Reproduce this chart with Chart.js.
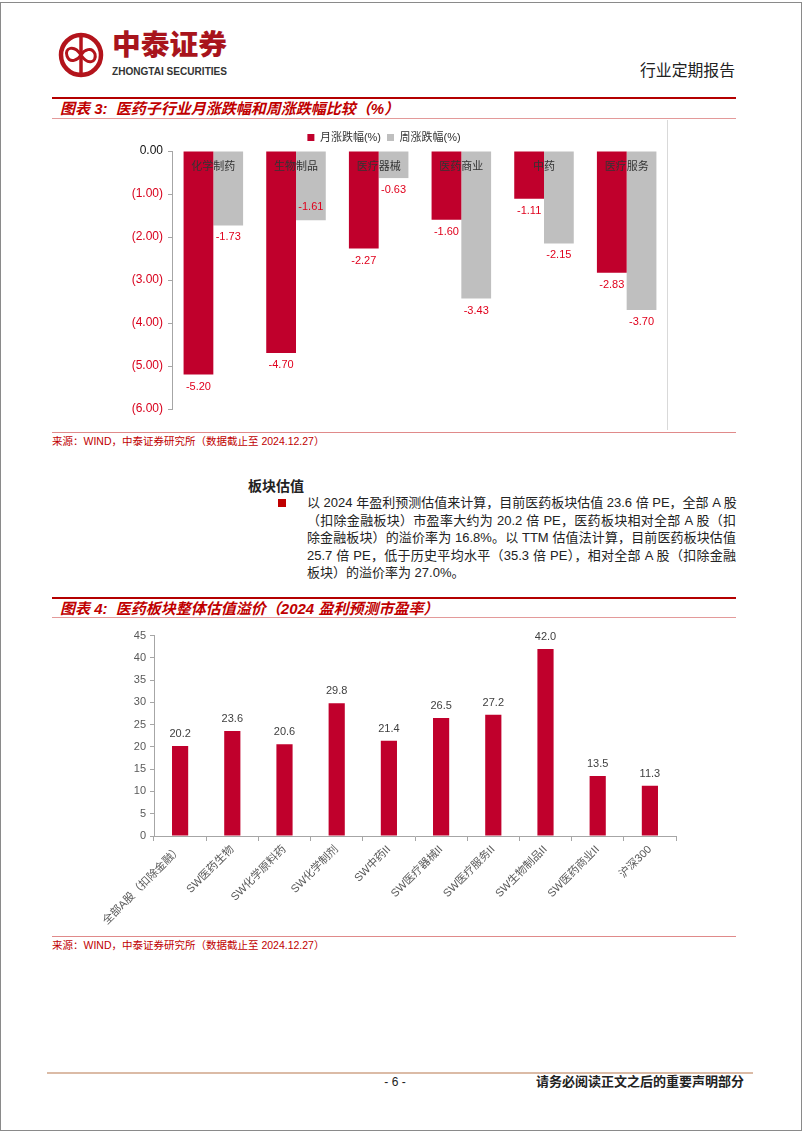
<!DOCTYPE html>
<html lang="zh">
<head>
<meta charset="UTF-8">
<title>医药行业定期报告</title>
<script src="https://cdn.jsdelivr.net/npm/chart.js"></script>
<style>
  html, body { margin: 0; padding: 0; background: #fff; }
  body { width: 802px; height: 1133px; position: relative; overflow: hidden;
         font-family: 'Liberation Sans', 'Noto Sans CJK SC', sans-serif; color: #222; }
  .frame { position: absolute; left: 0; top: 2px; width: 800px; height: 1127px; border: 1px solid #8a8a8a; }
  .abs { position: absolute; }
  .redline { position: absolute; left: 52px; width: 684px; height: 2px; background: #b40000; }
  .pinkline { position: absolute; left: 52px; width: 684px; height: 1px; background: #e39a9a; }
  .title { position: absolute; left: 60px; font-size: 15px; font-weight: bold; font-style: italic; color: #c00000; white-space: nowrap; line-height: 18px; }
  .src { position: absolute; left: 52px; font-size: 10.5px; color: #c00000; white-space: nowrap; line-height: 12px; }
  .para { position: absolute; left: 307px; width: 429px; font-size: 13px; line-height: 17.6px; color: #222; }
  .para div { white-space: nowrap; text-align: justify; text-align-last: justify; }
  .para div.last { text-align-last: left; }
</style>
</head>
<body>
<div class="frame"></div>

<!-- 页眉 -->
<svg class="abs" style="left:0;top:0" width="802" height="100">
  <circle cx="81" cy="55" r="20" fill="none" stroke="#b3141c" stroke-width="4.5"/>
  <line x1="81" y1="33" x2="81" y2="77" stroke="#b3141c" stroke-width="3.5"/>
  <path d="M81 55 C 74 44, 64 48, 67 56 C 70 64, 78 60, 81 55 C 84 50, 92 46, 95 54 C 97 62, 88 66, 81 55 Z" fill="none" stroke="#b3141c" stroke-width="3"/>
  <text x="112" y="55" font-size="28" font-weight="900" fill="#a8141c" font-family="Noto Sans CJK SC" textLength="115" lengthAdjust="spacingAndGlyphs">中泰证券</text>
  <text x="112" y="75" font-size="11.5" font-weight="bold" fill="#333" font-family="Liberation Sans Narrow, Liberation Sans" textLength="115" lengthAdjust="spacingAndGlyphs">ZHONGTAI SECURITIES</text>
  <text x="640" y="76" font-size="16" fill="#222" font-family="Noto Sans CJK SC" textLength="95" lengthAdjust="spacingAndGlyphs">行业定期报告</text>
</svg>

<div class="redline" style="top:97px"></div>
<div class="title" style="top:100px">图表 3:&nbsp; 医药子行业月涨跌幅和周涨跌幅比较（%）</div>
<div class="pinkline" style="top:118px"></div>

<div class="abs" style="left:100px;top:126px;width:632px;height:304px">
  <canvas id="chg"></canvas>
</div>
<div class="abs" style="left:667px;top:120px;width:1px;height:310px;background:#d9d9d9"></div>

<div class="pinkline" style="top:432px;background:#e08a8a"></div>
<div class="src" style="top:435px">来源：WIND，中泰证券研究所（数据截止至 2024.12.27）</div>

<div class="abs" style="left:248px;top:477px;font-size:14px;font-weight:bold;line-height:18px">板块估值</div>
<div class="abs" style="left:278px;top:499px;width:8px;height:8px;background:#c00000"></div>
<div class="para" style="top:494px">
  <div>以 2024 年盈利预测估值来计算，目前医药板块估值 23.6 倍 PE，全部 A 股</div>
  <div>（扣除金融板块）市盈率大约为 20.2 倍 PE，医药板块相对全部 A 股（扣</div>
  <div>除金融板块）的溢价率为 16.8%。以 TTM 估值法计算，目前医药板块估值</div>
  <div>25.7 倍 PE，低于历史平均水平（35.3 倍 PE），相对全部 A 股（扣除金融</div>
  <div class="last">板块）的溢价率为 27.0%。</div>
</div>

<div class="redline" style="top:597px"></div>
<div class="title" style="top:600px">图表 4:&nbsp; 医药板块整体估值溢价（2024 盈利预测市盈率）</div>
<div class="pinkline" style="top:617px"></div>

<div class="abs" style="left:100px;top:625px;width:600px;height:310px">
  <canvas id="pe"></canvas>
</div>

<div class="pinkline" style="top:936px;background:#e08a8a"></div>
<div class="src" style="top:939px">来源：WIND，中泰证券研究所（数据截止至 2024.12.27）</div>

<!-- 页脚 -->
<div class="abs" style="left:47px;top:1072px;width:706px;height:2px;background:#dbbba6"></div>
<div class="abs" style="left:380px;top:1075px;width:30px;text-align:center;font-size:12px;line-height:14px">- 6 -</div>
<div class="abs" style="left:513px;top:1074px;width:231px;text-align:right;font-size:13px;font-weight:bold;line-height:16px;white-space:nowrap">请务必阅读正文之后的重要声明部分</div>

<script>
// 图表3 数据
const subSectors = ['化学制药', '生物制品', '医疗器械', '医药商业', '中药', '医疗服务'];
const monthChg = [-5.20, -4.70, -2.27, -1.60, -1.11, -2.83];
const weekChg = [-1.73, -1.61, -0.63, -3.43, -2.15, -3.70];
const chgTicks = [0, -1, -2, -3, -4, -5, -6];

// 图表4 数据
const peNames = ['全部A股（扣除金融）', 'SW医药生物', 'SW化学原料药', 'SW化学制剂', 'SW中药II', 'SW医疗器械II', 'SW医疗服务II', 'SW生物制品II', 'SW医药商业II', '沪深300'];
const peValues = [20.2, 23.6, 20.6, 29.8, 21.4, 26.5, 27.2, 42.0, 13.5, 11.3];

const RED = '#c0002c';
const GRAY = '#bfbfbf';
const AXIS = '#a6a6a6';
const FONT = "'Liberation Sans', 'Noto Sans CJK SC', sans-serif";

// 数据标签
const valueLabels = {
  id: 'valueLabels',
  afterDatasetsDraw(chart, args, opts) {
    const ctx = chart.ctx;
    ctx.save();
    ctx.font = opts.size + 'px ' + FONT;
    ctx.fillStyle = opts.color;
    ctx.textAlign = 'center';
    ctx.textBaseline = 'middle';
    chart.data.datasets.forEach((ds, di) => {
      const meta = chart.getDatasetMeta(di);
      meta.data.forEach((bar, i) => {
        const v = ds.data[i];
        const shift = (opts.shift[di] && opts.shift[di][i]) || 0;
        const dy = v < 0 ? opts.gap : -opts.gap;
        ctx.fillText(v.toFixed(opts.digits), bar.x, bar.y + dy + shift);
      });
    });
    // 类别名写在零轴下方、压在柱子上
    if (opts.catOffset) {
      const xs = chart.scales.x, ys = chart.scales.y;
      const y0 = ys.getPixelForValue(0) + opts.catOffset;
      ctx.fillStyle = opts.catColor;
      ctx.font = opts.catSize + 'px ' + FONT;
      xs.ticks.forEach((t, i) => {
        ctx.fillText(xs.getLabelForValue(t.value), xs.getPixelForTick(i), y0);
      });
    }
    ctx.restore();
  }
};

// 图例下方留白收紧一些
const tightLegend = {
  id: 'tightLegend',
  afterInit(chart) {
    const lg = chart.legend;
    if (!lg) return;
    const fit = lg.fit;
    lg.fit = function () { fit.call(this); this.height -= 6; };
  }
};

Chart.defaults.font.family = FONT;
Chart.defaults.animation = false;

new Chart(document.getElementById('chg'), {
  type: 'bar',
  data: {
    labels: subSectors,
    datasets: [
      { label: '月涨跌幅(%)', data: monthChg, backgroundColor: RED, categoryPercentage: 0.72, barPercentage: 1.0 },
      { label: '周涨跌幅(%)', data: weekChg, backgroundColor: GRAY, categoryPercentage: 0.72, barPercentage: 1.0 }
    ]
  },
  options: {
    responsive: true,
    maintainAspectRatio: false,
    layout: { padding: { top: 0, right: 64, bottom: 21, left: 0 } },
    plugins: {
      legend: {
        position: 'top',
        maxHeight: 23,
        labels: { boxWidth: 7, boxHeight: 7, padding: 6, color: '#333', font: { size: 11 } }
      },
      tooltip: { enabled: false },
      valueLabels: { size: 11, color: '#e0001c', gap: 12, digits: 2, shift: [[], [0, -25]],
                     catOffset: 16, catColor: '#333', catSize: 11 }
    },
    scales: {
      x: {
        position: 'top',
        grid: { display: false },
        border: { display: false },
        ticks: { display: false }
      },
      y: {
        min: -6, max: 0,
        afterBuildTicks: s => { s.ticks = chgTicks.map(v => ({ value: v })); },
        afterFit: s => { s.width = 72; },
        grid: { drawOnChartArea: false, tickLength: 4, color: AXIS },
        border: { color: AXIS },
        ticks: {
          padding: 5,
          font: { size: 12 },
          color: c => c.tick.value < 0 ? '#d8001c' : '#111',
          callback: v => v === 0 ? '0.00' : '(' + Math.abs(v).toFixed(2) + ')'
        }
      }
    }
  },
  plugins: [valueLabels, tightLegend]
});

new Chart(document.getElementById('pe'), {
  type: 'bar',
  data: {
    labels: peNames,
    datasets: [
      { label: '市盈率', data: peValues, backgroundColor: RED, categoryPercentage: 1.0, barPercentage: 0.31 }
    ]
  },
  options: {
    responsive: true,
    maintainAspectRatio: false,
    layout: { padding: { top: 10, right: 24, bottom: 0, left: 0 } },
    plugins: {
      legend: { display: false },
      tooltip: { enabled: false },
      valueLabels: { size: 11, color: '#404040', gap: 12, digits: 1, shift: [] }
    },
    scales: {
      x: {
        grid: { offset: true, drawOnChartArea: false, tickLength: 5, color: AXIS },
        border: { color: AXIS },
        ticks: { minRotation: 45, maxRotation: 45, padding: 2, color: '#595959', font: { size: 11 } },
        afterFit: s => { s.height = 99; }
      },
      y: {
        min: 0, max: 45,
        ticks: { stepSize: 5, padding: 4, color: '#595959', font: { size: 11 } },
        afterFit: s => { s.width = 54; },
        grid: { drawOnChartArea: false, tickLength: 4, color: AXIS },
        border: { color: AXIS }
      }
    }
  },
  plugins: [valueLabels]
});
</script>
</body>
</html>
